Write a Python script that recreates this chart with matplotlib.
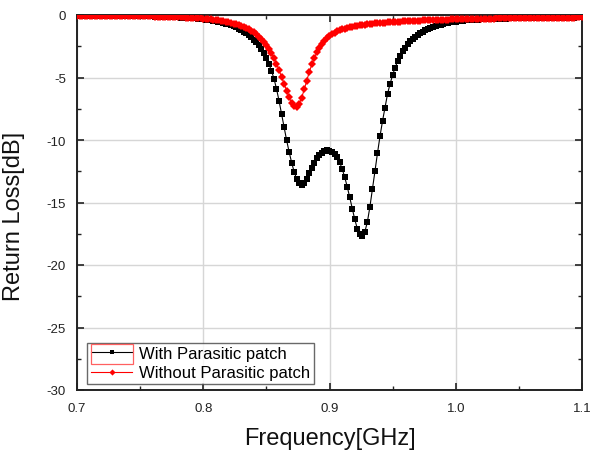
import numpy as np
import matplotlib
matplotlib.use("Agg")
import matplotlib.pyplot as plt
from matplotlib.patches import Rectangle
from matplotlib.ticker import MultipleLocator, FormatStrFormatter

plt.rcParams["font.family"] = ["Liberation Sans", "DejaVu Sans"]
plt.rcParams["axes.unicode_minus"] = False

# frequency sweep, 0.700 ... 1.100 GHz in 2 MHz steps
freq = np.round(np.arange(0.700, 1.1001, 0.002), 3)

# return loss [dB]
rl_without = [
    -0.05, -0.05, -0.05, -0.05, -0.05, -0.05, -0.05, -0.06, -0.06, -0.06,   # 0.700-0.718
    -0.06, -0.06, -0.06, -0.06, -0.07, -0.07, -0.07, -0.07, -0.07, -0.08,   # 0.720-0.738
    -0.08, -0.08, -0.08, -0.09, -0.09, -0.09, -0.10, -0.10, -0.10, -0.11,   # 0.740-0.758
    -0.11, -0.12, -0.12, -0.13, -0.13, -0.14, -0.14, -0.15, -0.16, -0.16,   # 0.760-0.778
    -0.17, -0.18, -0.19, -0.20, -0.21, -0.22, -0.23, -0.24, -0.26, -0.27,   # 0.780-0.798
    -0.29, -0.31, -0.33, -0.35, -0.37, -0.40, -0.43, -0.46, -0.50, -0.54,   # 0.800-0.818
    -0.58, -0.63, -0.68, -0.74, -0.81, -0.88, -0.96, -1.05, -1.15, -1.26,   # 0.820-0.838
    -1.39, -1.53, -1.75, -1.95, -2.18, -2.43, -2.72, -3.05, -3.45, -3.90,   # 0.840-0.858
    -4.40, -4.95, -5.50, -6.05, -6.58, -7.02, -7.30, -7.38, -7.12, -6.60,   # 0.860-0.878
    -5.95, -5.25, -4.55, -3.95, -3.42, -2.98, -2.60, -2.30, -2.05, -1.84,   # 0.880-0.898
    -1.67, -1.53, -1.41, -1.31, -1.22, -1.15, -1.08, -1.03, -0.98, -0.93,   # 0.900-0.918
    -0.89, -0.86, -0.82, -0.79, -0.76, -0.74, -0.71, -0.69, -0.67, -0.65,   # 0.920-0.938
    -0.63, -0.61, -0.60, -0.58, -0.57, -0.55, -0.54, -0.53, -0.52, -0.51,   # 0.940-0.958
    -0.50, -0.49, -0.48, -0.47, -0.46, -0.45, -0.44, -0.43, -0.42, -0.42,   # 0.960-0.978
    -0.41, -0.40, -0.39, -0.39, -0.38, -0.37, -0.37, -0.36, -0.35, -0.35,   # 0.980-0.998
    -0.34, -0.34, -0.33, -0.33, -0.32, -0.32, -0.31, -0.31, -0.30, -0.30,   # 1.000-1.018
    -0.30, -0.29, -0.29, -0.28, -0.28, -0.28, -0.27, -0.27, -0.27, -0.26,   # 1.020-1.038
    -0.26, -0.26, -0.25, -0.25, -0.25, -0.25, -0.24, -0.24, -0.24, -0.24,   # 1.040-1.058
    -0.23, -0.23, -0.23, -0.23, -0.22, -0.22, -0.22, -0.22, -0.21, -0.21,   # 1.060-1.078
    -0.21, -0.21, -0.21, -0.20, -0.20, -0.20, -0.20, -0.20, -0.19, -0.19,   # 1.080-1.098
    -0.19,                                                                  # 1.100
]

rl_with = [
    -0.05, -0.05, -0.05, -0.05, -0.05, -0.05, -0.05, -0.06, -0.06, -0.06,   # 0.700-0.718
    -0.06, -0.06, -0.06, -0.06, -0.07, -0.07, -0.07, -0.07, -0.07, -0.08,   # 0.720-0.738
    -0.08, -0.08, -0.08, -0.09, -0.09, -0.09, -0.10, -0.10, -0.10, -0.11,   # 0.740-0.758
    -0.11, -0.12, -0.13, -0.13, -0.14, -0.15, -0.15, -0.16, -0.17, -0.18,   # 0.760-0.778
    -0.19, -0.20, -0.21, -0.22, -0.23, -0.24, -0.26, -0.27, -0.29, -0.31,   # 0.780-0.798
    -0.33, -0.36, -0.39, -0.42, -0.45, -0.49, -0.53, -0.58, -0.63, -0.69,   # 0.800-0.818
    -0.75, -0.82, -0.90, -0.99, -1.09, -1.20, -1.32, -1.45, -1.60, -1.77,   # 0.820-0.838
    -1.96, -2.18, -2.43, -2.72, -3.06, -3.46, -3.92, -4.46, -5.08, -5.90,   # 0.840-0.858
    -6.85, -7.90, -8.95, -10.00, -10.95, -11.80, -12.55, -13.12, -13.45, -13.58,  # 0.860-0.878
    -13.45, -13.10, -12.65, -12.20, -11.80, -11.46, -11.20, -11.01, -10.89, -10.83,  # 0.880-0.898
    -10.84, -10.93, -11.10, -11.38, -11.78, -12.30, -12.95, -13.72, -14.58, -15.48,  # 0.900-0.918
    -16.35, -17.08, -17.55, -17.68, -17.35, -16.55, -15.35, -13.95, -12.50, -11.05,  # 0.920-0.938
    -9.70, -8.48, -7.40, -6.30, -5.50, -4.80, -4.20, -3.70, -3.25, -2.90,   # 0.940-0.958
    -2.60, -2.33, -2.10, -1.90, -1.73, -1.58, -1.45, -1.33, -1.22, -1.12,   # 0.960-0.978
    -1.03, -0.95, -0.88, -0.82, -0.76, -0.71, -0.66, -0.62, -0.58, -0.55,   # 0.980-0.998
    -0.52, -0.49, -0.47, -0.45, -0.43, -0.41, -0.40, -0.38, -0.37, -0.36,   # 1.000-1.018
    -0.35, -0.34, -0.33, -0.32, -0.31, -0.31, -0.30, -0.29, -0.29, -0.28,   # 1.020-1.038
    -0.28, -0.27, -0.27, -0.26, -0.26, -0.26, -0.25, -0.25, -0.25, -0.24,   # 1.040-1.058
    -0.24, -0.24, -0.23, -0.23, -0.23, -0.22, -0.22, -0.22, -0.22, -0.21,   # 1.060-1.078
    -0.21, -0.21, -0.21, -0.20, -0.20, -0.20, -0.20, -0.20, -0.19, -0.19,   # 1.080-1.098
    -0.19,                                                                  # 1.100
]

fig = plt.figure(figsize=(5.96, 4.52), dpi=100)
ax = fig.add_axes([77 / 596, 1 - 391 / 452, 505 / 596, 375 / 452])

ax.plot(freq, rl_with, color="black", marker="s", markersize=4.0, linewidth=0.8,
        markeredgewidth=0, label="With Parasitic patch", zorder=3)
ax.plot(freq, rl_without, color="red", marker="D", markersize=4.5, linewidth=0.8,
        markeredgewidth=0, label="Without Parasitic patch", zorder=4)

ax.set_xlim(0.7, 1.1)
ax.set_ylim(-30, 0)
ax.xaxis.set_major_locator(MultipleLocator(0.1))
ax.xaxis.set_minor_locator(MultipleLocator(0.05))
ax.yaxis.set_major_locator(MultipleLocator(5))
ax.yaxis.set_minor_locator(MultipleLocator(2.5))
ax.xaxis.set_major_formatter(FormatStrFormatter("%.1f"))
ax.yaxis.set_major_formatter(FormatStrFormatter("%d"))
ax.grid(True, which="major", color="#d6d6d6", linewidth=1.0, zorder=0)
ax.set_axisbelow(True)

ax.tick_params(which="both", direction="in", top=True, right=True,
               labelsize=9.5, colors="#222222")
ax.tick_params(axis="x", pad=9)
ax.tick_params(axis="y", pad=8)
ax.tick_params(which="major", length=5, width=1.2)
ax.tick_params(which="minor", length=3, width=1.0)
for s in ax.spines.values():
    s.set_linewidth(1.4)
    s.set_color("#222222")

ax.set_xlabel("Frequency[GHz]", fontsize=17, color="#111111", labelpad=9)
ax.set_ylabel("Return Loss[dB]", fontsize=17, color="#111111")
ax.yaxis.set_label_coords(-0.103, 0.465)

leg = ax.legend(loc="lower left", bbox_to_anchor=(0.02, 0.016), borderaxespad=0,
                fontsize=12, frameon=True, fancybox=False, handlelength=2.5,
                handletextpad=0.4, labelspacing=0.25, borderpad=0.22,
                markerscale=0.7)
leg.get_frame().set_edgecolor("#444444")
leg.get_frame().set_linewidth(1.0)

# red selection box around the first legend handle
fig.canvas.draw()
lb = leg.get_window_extent()
tb = leg.get_texts()[0].get_window_extent()
yc = 0.5 * (tb.y0 + tb.y1)
fig.patches.append(Rectangle((lb.x0 + 4, yc - 10), tb.x0 - lb.x0 - 10, 20,
                             transform=None, fill=False,
                             edgecolor="#ff6060", linewidth=0.9, zorder=10))

fig.savefig("out.png", dpi=100)
